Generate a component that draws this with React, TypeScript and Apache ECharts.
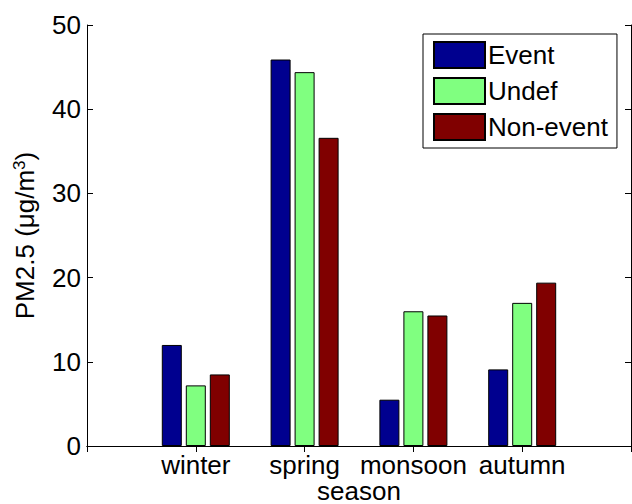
import React, { useEffect, useRef } from "react";
import * as echarts from "echarts";

const seasons = ["winter", "spring", "monsoon", "autumn"];
const seriesNames = ["Event", "Undef", "Non-event"];
const eventValues = [12.0, 45.9, 5.5, 9.1];
const undefValues = [7.2, 44.4, 16.0, 17.0];
const nonEventValues = [8.5, 36.6, 15.5, 19.4];
const yTicks = [0, 10, 20, 30, 40, 50];
const colors = ["#00008F", "#80FF80", "#800000"];

export default function App() {
  const ref = useRef<HTMLDivElement>(null);
  useEffect(() => {
    if (!ref.current) return;
    const chart = echarts.init(ref.current, undefined, { renderer: "svg" });
    const cats = ["", ...seasons, ""];
    const pad = (arr: number[]) => [null, ...arr, null];
    const all = [eventValues, undefValues, nonEventValues];
    const font = "Liberation Sans, Arial, sans-serif";
    const axisLine = { show: true, lineStyle: { color: "#000", width: 1 } };
    chart.setOption({
      animation: false,
      textStyle: { fontFamily: font, color: "#000" },
      grid: { left: 87, top: 25, right: 1, bottom: 58, containLabel: false, outerBoundsMode: "none" },
      legend: {
        orient: "vertical",
        left: 423,
        top: 34,
        padding: [7, 9, 7, 10],
        itemGap: 8,
        itemWidth: 51,
        itemHeight: 26,
        borderColor: "#000",
        borderWidth: 1,
        backgroundColor: "#fff",
        icon: "rect",
        textStyle: { fontSize: 26, fontFamily: font, color: "#000", lineHeight: 26, padding: [0, 0, 0, -2] },
        data: seriesNames,
      },
      xAxis: [
        {
          type: "category",
          data: cats,
          boundaryGap: false,
          axisLine,
          axisTick: { show: true, inside: true, length: 6, interval: 0, lineStyle: { color: "#000" } },
          axisLabel: { interval: 0, fontSize: 26, color: "#000", fontFamily: font, margin: 6 },
          splitLine: { show: false },
          name: "season",
          nameLocation: "middle",
          nameGap: 33,
          nameMoveOverlap: false,
          nameTextStyle: { fontSize: 26, color: "#000", fontFamily: font, lineHeight: 24 },
        },
        {
          type: "category",
          data: cats,
          position: "top",
          boundaryGap: false,
          axisLine,
          axisTick: { show: true, inside: true, length: 6, interval: 0, lineStyle: { color: "#000" } },
          axisLabel: { show: false },
          splitLine: { show: false },
        },
      ],
      yAxis: [
        {
          type: "value",
          min: yTicks[0],
          max: yTicks[yTicks.length - 1],
          interval: 10,
          axisLine,
          axisTick: { show: true, inside: true, length: 6, lineStyle: { color: "#000" } },
          axisLabel: { fontSize: 26, color: "#000", fontFamily: font, margin: 6 },
          splitLine: { show: false },
          name: "PM2.5 (μg/m{sup|3})",
          nameLocation: "middle",
          nameRotate: 90,
          nameGap: 49,
          nameMoveOverlap: false,
          nameTextStyle: {
            fontSize: 26,
            color: "#000",
            fontFamily: font,
            rich: {
              sup: { fontSize: 17, verticalAlign: "top", fontFamily: font, color: "#000", padding: [0, 0, 10, 0] },
            },
          },
        },
        {
          type: "value",
          min: yTicks[0],
          max: yTicks[yTicks.length - 1],
          interval: 10,
          position: "right",
          axisLine,
          axisTick: { show: true, inside: true, length: 6, lineStyle: { color: "#000" } },
          axisLabel: { show: false },
          splitLine: { show: false },
        },
      ],
      series: seriesNames.map((name, i) => ({
        name,
        type: "bar",
        xAxisIndex: 0,
        yAxisIndex: 0,
        data: pad(all[i]),
        barWidth: 20,
        barGap: "20%",
        itemStyle: { color: colors[i], borderColor: "#000", borderWidth: 1 },
      })),
    });
    return () => chart.dispose();
  }, []);
  return (
    <div
      ref={ref}
      style={{ position: "fixed", left: 0, top: 0, width: 632, height: 504, background: "#fff" }}
    />
  );
}
